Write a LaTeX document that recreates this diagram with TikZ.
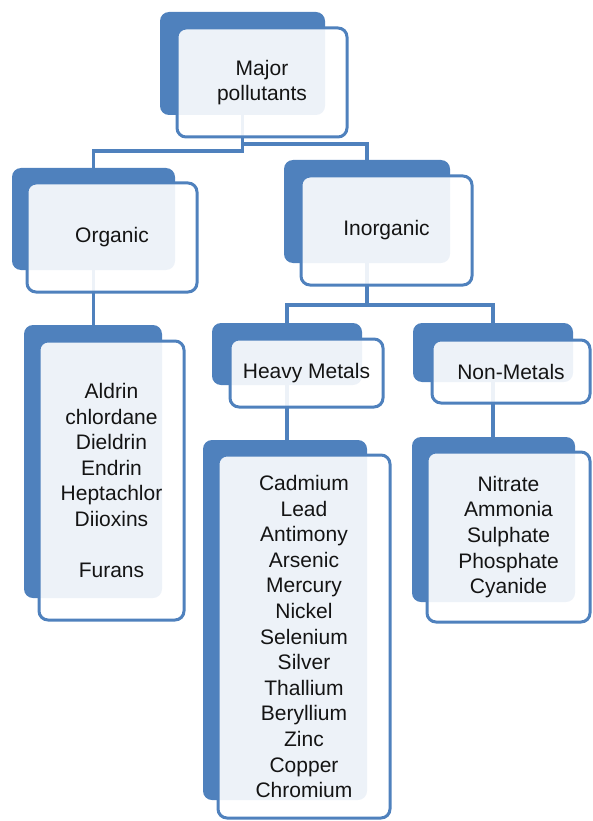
\documentclass[tikz,border=0pt]{standalone}
\usepackage{fontspec}
\setmainfont{Liberation Sans}
\usetikzlibrary{backgrounds}
\definecolor{pblue}{HTML}{4F81BD}
\newcommand\pbx[7]{\node[#6, minimum width={#4-#2}, minimum height={#5-#3}] (#1) at ({(#2+#4)/2},{(#3+#5)/2}) {#7};}
\tikzset{
  backbox/.style={fill=pblue, rounded corners=9pt, inner sep=0pt, draw=none},
  frontbox/.style={draw=pblue, line width=3pt, fill=white, fill opacity=0.9, text opacity=1, rounded corners=9pt, inner sep=0pt, align=center, font=\fontsize{21}{25.6}\selectfont, text=black!92},
  link/.style={draw=pblue, line width=3.1pt}
}
\begin{document}
\begin{tikzpicture}[x=1pt, y=-1pt]
\useasboundingbox (0,0) rectangle (592,821);
% Major pollutants
\pbx{majb}{160}{12}{325}{115}{backbox}{}
\pbx{maj}{177}{28}{347}{137}{frontbox}{Major\\pollutants}
% Organic
\pbx{orgb}{12}{168}{175}{270}{backbox}{}
\pbx{org}{27}{183}{197}{292}{frontbox}{Organic}
% Inorganic
\pbx{inob}{284}{160}{450}{263}{backbox}{}
\pbx{ino}{301}{176}{472}{285}{frontbox}{Inorganic}
% Heavy Metals
\pbx{heab}{212}{323}{362}{385}{backbox}{}
\pbx{hea}{230}{339}{383}{407}{frontbox}{Heavy Metals}
% Non-Metals
\pbx{nonb}{413}{323}{573}{382}{backbox}{}
\pbx{non}{432}{340}{590}{403}{frontbox}{Non-Metals}
% Organic list
\pbx{orglb}{24}{325}{162}{598}{backbox}{}
\pbx{orgl}{39}{341}{184}{620}{frontbox}{Aldrin\\chlordane\\Dieldrin\\Endrin\\Heptachlor\\Diioxins\\[25.6pt]Furans}
% Heavy metals list
\pbx{heavlb}{203}{440}{367}{800}{backbox}{}
\pbx{heavl}{218}{455}{390}{818}{frontbox}{Cadmium\\Lead\\Antimony\\Arsenic\\Mercury\\Nickel\\Selenium\\Silver\\Thallium\\Beryllium\\Zinc\\Copper\\Chromium}
% Non-metals list
\pbx{nonlb}{412}{437}{575}{602}{backbox}{}
\pbx{nonl}{427}{452}{590}{622}{frontbox}{Nitrate\\Ammonia\\Sulphate\\Phosphate\\Cyanide}
\coordinate (j1) at (0,151);
\coordinate (j2) at (0,144);
\coordinate (j3) at (0,305);
\begin{scope}[on background layer]
\draw[link] (majb.center) -- (majb.center |- j1) -| (orgb.center);
\draw[link] (majb.center |- j1) -- (majb.center |- j2) -| (inob.center);
\draw[link] (inob.center) -- (inob.center |- j3) -| (heab.center);
\draw[link] (inob.center |- j3) -| (nonb.center);
\draw[link] (orgb.center) -- (orgb.center |- orglb.center);
\draw[link] (heab.center) -- (heab.center |- heavlb.center);
\draw[link] (nonb.center) -- (nonb.center |- nonlb.center);
\end{scope}
\end{tikzpicture}
\end{document}
